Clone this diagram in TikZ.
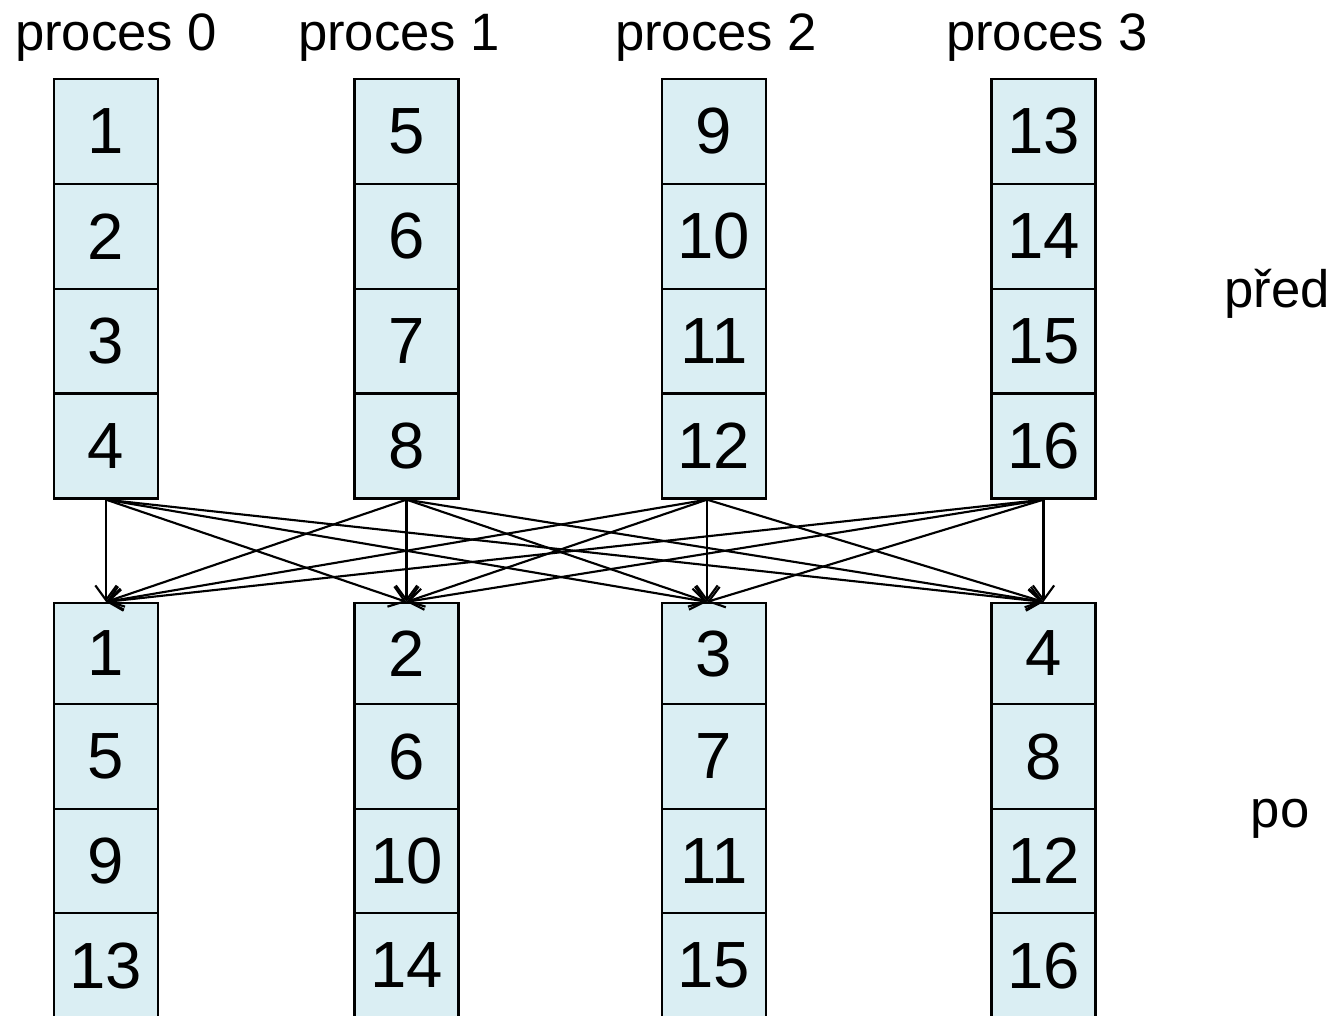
\documentclass[tikz,border=0pt]{standalone}
\usepackage{fontspec}
\setmainfont{Liberation Sans}
\usetikzlibrary{arrows.meta,calc}
\definecolor{cellfill}{HTML}{DAEEF3}
\begin{document}
\begin{tikzpicture}[x=0.75pt,y=-0.75pt,
  cell/.style={draw=black,line width=1.7pt,fill=cellfill,minimum width=78pt,inner sep=0pt,
    font=\fontsize{49}{49}\selectfont},
  lbl/.style={font=\fontsize{39.5}{39.5}\selectfont,inner sep=0pt,anchor=base},
  arr/.style={line width=1.6pt,-{Straight Barb[length=11pt,width=16pt,line width=1.6pt]}}]
\useasboundingbox (0,0) rectangle (1332,1015);
\clip (0,0) rectangle (1332,1015);
% column labels
\node[lbl] (p0) at (116,50) {proces 0};
\node[lbl] (p1) at (399,50) {proces 1};
\node[lbl] (p2) at (716,50) {proces 2};
\node[lbl] (p3) at (1047,50) {proces 3};
\node[lbl] (pred) at (1277,307) {před};
\node[lbl] (po) at (1280,827) {po};
% top cells (before)
\foreach \c/\x in {0/106,1/406.5,2/714,3/1043.5}{
  \foreach \r/\y in {1/131.5,2/236.5,3/341.5,4/446}{
    \pgfmathtruncatemacro{\v}{\c*4+\r}
    \node[cell,minimum height=78.75pt] (t\c-\r) at (\x,\y) {\v};
  }
}
% bottom cells (after)
\foreach \c/\x in {0/106,1/406.5,2/714,3/1043.5}{
  \foreach \r/\y/\h in {1/653.5/75.75,2/756.5/78.75,3/861/78,4/965.5/78.75}{
    \pgfmathtruncatemacro{\v}{(\r-1)*4+\c+1}
    \node[cell,minimum height=\h pt] (b\c-\r) at (\x,\y) {\v};
  }
}
% arrow end points
\coordinate (s0) at (t0-4.south);
\coordinate (s1) at (t1-4.south);
\coordinate (s2) at ($(t2-4.south)+(-7,0)$);
\coordinate (s3) at (t3-4.south);
\coordinate (e0) at (b0-1.north);
\coordinate (e1) at (b1-1.north);
\coordinate (e2) at ($(b2-1.north)+(-7,0)$);
\coordinate (e3) at (b3-1.north);
\foreach \i in {0,1,2,3}{
  \foreach \j in {0,1,2,3}{
    \draw[arr] (s\i) -- (e\j);
  }
}
\end{tikzpicture}
\end{document}
